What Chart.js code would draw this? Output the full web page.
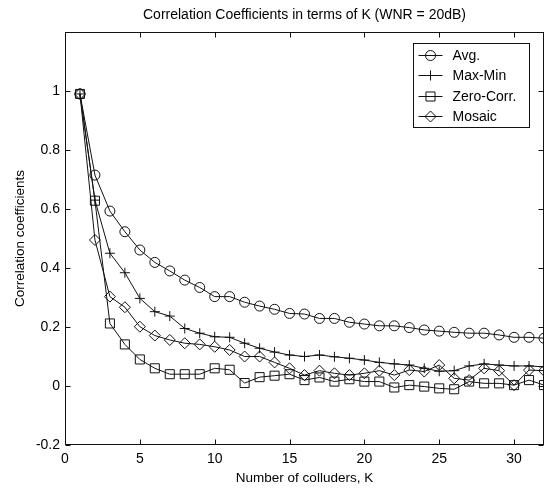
<!DOCTYPE html>
<html>
<head>
<meta charset="utf-8">
<script src="https://cdn.jsdelivr.net/npm/chart.js@4"></script>
<style>
  html, body { margin: 0; padding: 0; background: #fff; }
  #wrap { width: 554px; height: 489px; }
</style>
</head>
<body>
<div id="wrap"><canvas id="chart" width="554" height="489"></canvas></div>
<script>
const colluders = [1, 2, 3, 4, 5, 6, 7, 8, 9, 10, 11, 12, 13, 14, 15, 16,
	17, 18, 19, 20, 21, 22, 23, 24, 25, 26, 27, 28, 29, 30, 31, 32];

const avg = [0.99, 0.715, 0.593, 0.523, 0.461, 0.419, 0.39, 0.359, 0.334, 0.303, 0.303, 0.284,
	0.271, 0.26, 0.246, 0.244, 0.229, 0.229, 0.216, 0.21, 0.204, 0.204, 0.198, 0.19,
	0.186, 0.182, 0.179, 0.179, 0.173, 0.165, 0.165, 0.162];

const maxMin = [0.99, 0.63, 0.45, 0.384, 0.297, 0.252, 0.237, 0.195, 0.179, 0.167, 0.165, 0.145,
	0.128, 0.115, 0.105, 0.1, 0.105, 0.099, 0.094, 0.088, 0.08, 0.075, 0.071, 0.06,
	0.05, 0.052, 0.068, 0.075, 0.071, 0.068, 0.068, 0.065];

const zeroCorr = [0.99, 0.628, 0.212, 0.141, 0.09, 0.06, 0.04, 0.04, 0.04, 0.06, 0.055, 0.01,
	0.03, 0.035, 0.04, 0.02, 0.029, 0.015, 0.023, 0.015, 0.015, -0.005, 0.003, -0.002,
	-0.008, -0.011, 0.015, 0.009, 0.009, 0.003, 0.02, 0.003];

const mosaic = [0.99, 0.495, 0.303, 0.267, 0.201, 0.171, 0.156, 0.145, 0.141, 0.133, 0.122, 0.1,
	0.1, 0.08, 0.06, 0.037, 0.052, 0.043, 0.037, 0.043, 0.052, 0.037, 0.054, 0.049,
	0.071, 0.026, 0.02, 0.06, 0.052, 0.003, 0.054, 0.052];

const seriesNames = ['Avg.', 'Max-Min', 'Zero-Corr.', 'Mosaic'];
const seriesMarkers = ['circle', 'cross', 'rect', 'rectRot'];
const markerSizes = [5, 5, 6.4, 5.5];

const xTicks = [0, 5, 10, 15, 20, 25, 30];
const yTicks = [-0.2, 0, 0.2, 0.4, 0.6, 0.8, 1, 1.2];

const chartTitle = 'Correlation Coefficients in terms of K (WNR = 20dB)';

const FONT = 'Arial, "Liberation Sans", Helvetica, sans-serif';
const INK = '#111';

const toPoints = (vals) => vals.map((v, i) => ({ x: colluders[i], y: v }));

const datasets = [avg, maxMin, zeroCorr, mosaic].map((vals, i) => ({
	label: seriesNames[i],
	data: toPoints(vals),
	borderColor: INK,
	borderWidth: 1,
	pointStyle: seriesMarkers[i],
	pointRadius: markerSizes[i],
	pointHoverRadius: markerSizes[i],
	pointBorderColor: INK,
	pointBorderWidth: 1,
	pointBackgroundColor: 'rgba(0,0,0,0)',
	tension: 0,
	fill: false,
}));

// box round the plot, matlab style ticks pointing inwards, title centred over the axes
const frame = {
	id: 'frame',
	afterDatasetsDraw(chart) {
		const { ctx, chartArea: a, scales: { x, y } } = chart;
		const L = Math.round(a.left) + 0.5, R = Math.round(a.right) - 0.5;
		const T = Math.round(a.top) + 0.5, B = Math.round(a.bottom) - 0.5;
		ctx.save();
		ctx.strokeStyle = INK;
		ctx.lineWidth = 1;
		ctx.strokeRect(L, T, R - L, B - T);
		ctx.beginPath();
		xTicks.forEach((v) => {
			const px = Math.round(x.getPixelForValue(v)) + 0.5;
			ctx.moveTo(px, B); ctx.lineTo(px, B - 5);
			ctx.moveTo(px, T); ctx.lineTo(px, T + 5);
		});
		yTicks.forEach((v) => {
			const py = Math.round(y.getPixelForValue(v)) + 0.5;
			ctx.moveTo(L, py); ctx.lineTo(L + 5, py);
			ctx.moveTo(R, py); ctx.lineTo(R - 5, py);
		});
		ctx.stroke();

		ctx.fillStyle = '#000';
		ctx.font = '14px ' + FONT;
		ctx.textAlign = 'center';
		ctx.textBaseline = 'middle';
		ctx.fillText(chartTitle, (a.left + a.right) / 2, 15);
		ctx.restore();
	}
};

// legend box drawn inside the top right corner
const insideLegend = {
	id: 'insideLegend',
	afterDraw(chart) {
		const { ctx, chartArea: a } = chart;
		const w = 116, h = 84, rowH = 20.5;
		const left = Math.round(a.right - 15 - w) + 0.5;
		const top = Math.round(a.top + 11) + 0.5;
		ctx.save();
		ctx.fillStyle = '#fff';
		ctx.fillRect(left, top, w, h);
		ctx.strokeStyle = INK;
		ctx.lineWidth = 1;
		ctx.strokeRect(left, top, w, h);
		ctx.font = '14px ' + FONT;
		ctx.textBaseline = 'middle';
		chart.data.datasets.forEach((ds, i) => {
			const cy = Math.round(top + 11 + i * rowH) + 0.5;
			const cx = left + 17;
			ctx.beginPath();
			ctx.moveTo(cx - 12, cy);
			ctx.lineTo(cx + 12, cy);
			ctx.stroke();
			ctx.fillStyle = 'rgba(0,0,0,0)';
			Chart.helpers.drawPoint(ctx, {
				pointStyle: ds.pointStyle,
				radius: ds.pointRadius,
				borderWidth: 1,
				rotation: 0
			}, cx, cy);
			ctx.fillStyle = '#000';
			ctx.fillText(ds.label, left + 39, cy + 1);
		});
		ctx.restore();
	}
};

new Chart(document.getElementById('chart'), {
	type: 'line',
	data: { datasets },
	options: {
		responsive: false,
		animation: false,
		layout: { padding: { left: 0, right: 10, top: 32, bottom: 0 } },
		plugins: {
			legend: { display: false },
			tooltip: { enabled: false },
			title: { display: false }
		},
		scales: {
			x: {
				type: 'linear',
				min: 0,
				max: 32,
				afterFit: (s) => { s.height = 44; },
				grid: { display: false, drawTicks: false },
				border: { display: false },
				ticks: {
					stepSize: 5,
					includeBounds: false,
					autoSkip: false,
					maxRotation: 0,
					padding: 6,
					color: '#000',
					font: { family: FONT, size: 14 }
				},
				title: {
					display: true,
					text: 'Number of colluders, K',
					color: '#000',
					font: { family: FONT, size: 13.5 },
					padding: { top: 0, bottom: 3 }
				}
			},
			y: {
				min: -0.2,
				max: 1.2,
				afterFit: (s) => { s.width = 65; },
				grid: { display: false, drawTicks: false },
				border: { display: false },
				ticks: {
					stepSize: 0.2,
					padding: 5,
					color: '#000',
					font: { family: FONT, size: 14 },
					callback: (v) => Math.abs(v - 1.2) < 1e-6 ? '' : String(Number(v.toFixed(1)))
				},
				title: {
					display: true,
					text: 'Correlation coefficients',
					color: '#000',
					font: { family: FONT, size: 13.5 },
					padding: { top: 12, bottom: 0 }
				}
			}
		}
	},
	plugins: [frame, insideLegend]
});
</script>
</body>
</html>
